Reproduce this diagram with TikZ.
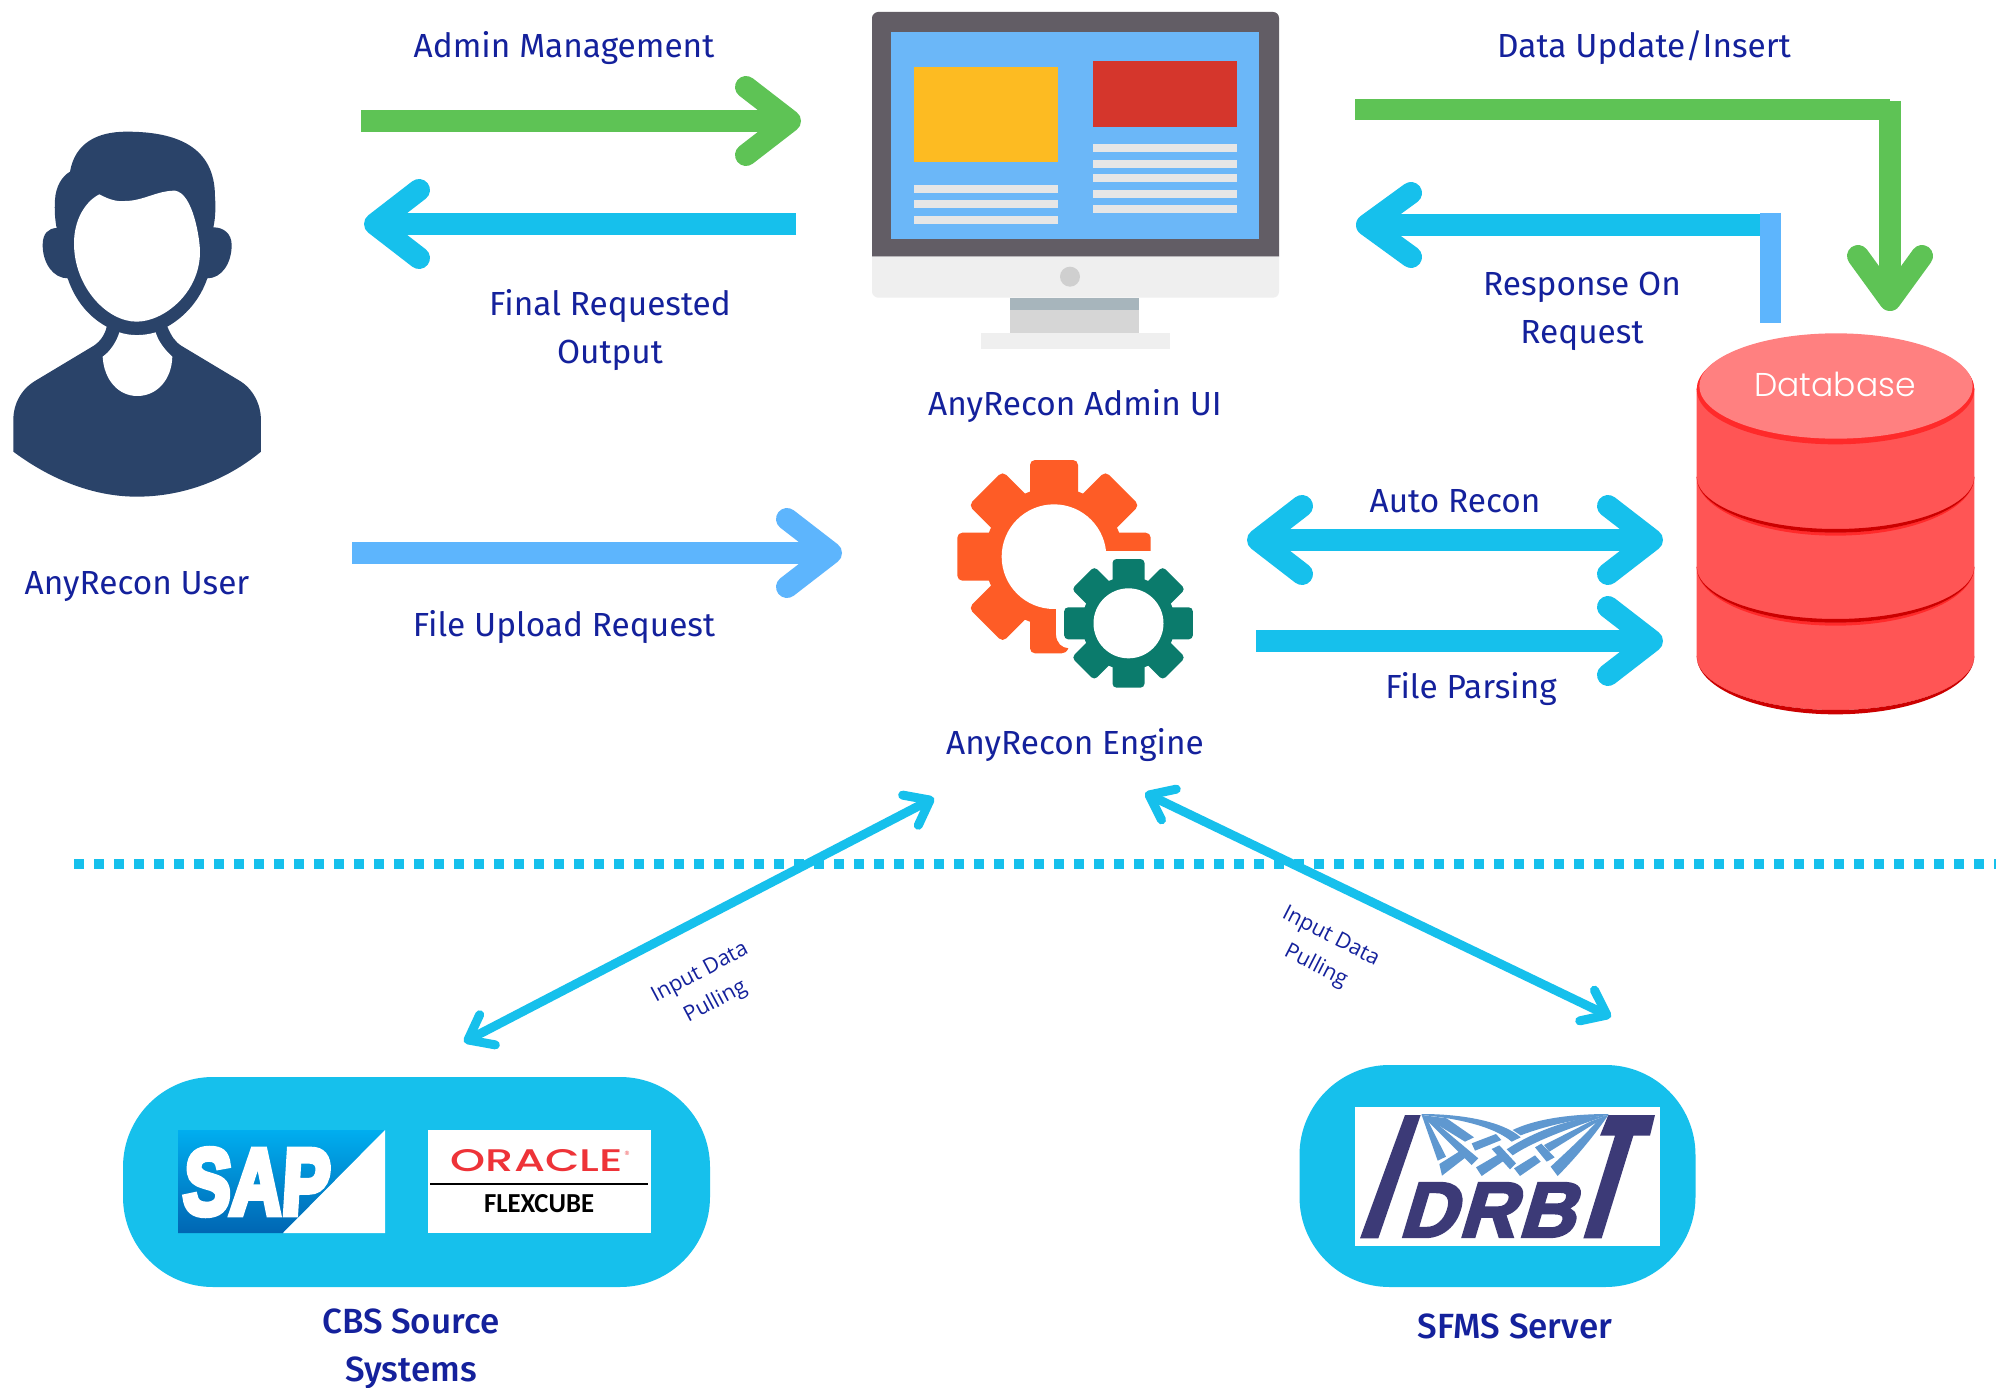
\documentclass[tikz,border=0pt]{standalone}
\usepackage{fontspec}
\usetikzlibrary{arrows.meta,calc}
\setmainfont{Fira Sans}
\newfontfamily\labelbold{Fira Sans Medium}
\newfontfamily\smallfont{Open Sans}
\newfontfamily\dbfont{Poppins Light}
\newfontfamily\oraclefont{Poppins Medium}
\newfontfamily\plainsans{Liberation Sans}
\newfontfamily\heavy{Liberation Sans}[FakeBold=7,FakeSlant=0.08]
\newfontfamily\carl{Carlito}
\newfontfamily\idrbtfont{Liberation Sans}[FakeSlant=0.3,LetterSpace=4,FakeBold=3.5]
\definecolor{cgreen}{HTML}{5EC355}
\definecolor{ccyan}{HTML}{16C0EC}
\definecolor{cblue}{HTML}{5DB5FD}
\definecolor{ctext}{HTML}{14219C}
\definecolor{cnavy}{HTML}{2A4369}
\definecolor{mdark}{HTML}{625D65}
\definecolor{mbez}{HTML}{EFEFEF}
\definecolor{mscreen}{HTML}{6BB7F8}
\definecolor{myellow}{HTML}{FDBB22}
\definecolor{mred}{HTML}{D5362C}
\definecolor{mline}{HTML}{E6E6E6}
\definecolor{mdot}{HTML}{CFCFCF}
\definecolor{mneck}{HTML}{D6D6D6}
\definecolor{mneckt}{HTML}{A7B5BC}
\definecolor{gorange}{HTML}{FE5C26}
\definecolor{gteal}{HTML}{0B7B6C}
\definecolor{dbtop}{HTML}{FF8080}
\definecolor{dbedge}{HTML}{FF2A2A}
\definecolor{dbbody}{HTML}{FF5555}
\definecolor{dbdark}{HTML}{CC0000}
\definecolor{idnavy}{HTML}{3C3A77}
\definecolor{idblue}{HTML}{5F98D0}
\definecolor{saptop}{HTML}{00AEEF}
\definecolor{sapbot}{HTML}{0066B3}
\definecolor{orared}{HTML}{EE3338}
\tikzset{
  lbl/.style={text=ctext,align=center,inner sep=0pt,font=\fontsize{33.4}{48}\selectfont},
  lblb/.style={text=ctext,align=center,inner sep=0pt,font=\labelbold\fontsize{35}{48}\selectfont},
  smalllbl/.style={text=ctext,align=center,inner sep=0pt,font=\smallfont\fontsize{21.5}{33}\selectfont},
  bigarrow/.style={line width=22pt,-{Straight Barb[length=44pt,width=68pt,round]}},
  bigarrown/.style={line width=22pt,-{Straight Barb[length=44pt,width=64pt,round]}},
  bigarrows/.style={line width=22pt,{Straight Barb[length=44pt,width=68pt,round]}-{Straight Barb[length=44pt,width=68pt,round]}},
  thinarrows/.style={line width=9pt,{Straight Barb[length=22pt,width=34pt,round]}-{Straight Barb[length=22pt,width=34pt,round]}},
  pill/.style={fill=ccyan,rounded corners=90pt,inner sep=0pt},
}
\newcommand{\dbarc}[2]{(50,#1) .. controls (50,#1+.5523*#2) and (236.5,#1+#2) .. (466.5,#1+#2) .. controls (696.5,#1+#2) and (883,#1+.5523*#2) .. (883,#1)}
\newcommand{\dbarcback}[2]{.. controls (883,#1+.5523*#2) and (696.5,#1+#2) .. (466.5,#1+#2) .. controls (236.5,#1+#2) and (50,#1+.5523*#2) .. (50,#1)}
\begin{document}
\begin{tikzpicture}[x=1pt,y=-1pt]
\useasboundingbox (0,0) rectangle (2006,1388);
\fill[white] (0,0) rectangle (2006,1388);
% user icon
\begin{scope}[shift={(0,100)},scale=0.33333]
\fill[cnavy] (210,215) .. controls (225,130) and (290,95) .. (380,95)
 .. controls (530,95) and (645,140) .. (645,290)
 .. controls (648,330) and (645,360) .. (640,382)
 .. controls (670,382) and (695,400) .. (695,435)
 .. controls (695,490) and (665,535) .. (622,535)
 .. controls (600,600) and (555,650) .. (502,680)
 .. controls (515,710) and (525,725) .. (545,738)
 -- (715,840) .. controls (760,865) and (783,915) .. (783,960)
 -- (783,1055) .. controls (680,1140) and (550,1190) .. (410,1190)
 .. controls (270,1190) and (140,1130) .. (40,1055)
 -- (40,960) .. controls (40,910) and (65,865) .. (110,840)
 -- (280,738) .. controls (300,725) and (315,705) .. (320,680)
 .. controls (265,650) and (225,600) .. (203,535)
 .. controls (160,535) and (128,490) .. (128,435)
 .. controls (128,400) and (145,385) .. (170,384)
 .. controls (165,360) and (163,330) .. (165,300)
 .. controls (167,260) and (185,230) .. (210,215) -- cycle;
\fill[white] (298,283) .. controls (330,300) and (350,305) .. (375,303)
 .. controls (430,303) and (470,272) .. (525,272)
 .. controls (580,280) and (600,420) .. (600,455)
 .. controls (600,580) and (490,665) .. (410,665)
 .. controls (320,665) and (222,560) .. (222,430)
 .. controls (222,360) and (255,305) .. (298,283) -- cycle;
\fill[white] (358,697) .. controls (390,708) and (430,708) .. (467,697)
 .. controls (475,725) and (495,750) .. (517,770)
 .. controls (515,840) and (470,888) .. (412,888)
 .. controls (355,888) and (312,840) .. (308,770)
 .. controls (330,755) and (350,725) .. (358,697) -- cycle;
\end{scope}
% monitor icon
\begin{scope}[shift={(850,0)},scale=0.33333]
\fill[mneck] (480,893) rectangle (868,998);
\fill[mneckt] (480,893) rectangle (868,931);
\fill[mbez] (392,998) rectangle (961,1046);
\fill[mdark] (66,770) -- (66,54) .. controls (66,44) and (76,36) .. (84,36) -- (1269,36) .. controls (1279,36) and (1287,44) .. (1287,54) -- (1287,770) -- cycle;
\fill[mbez] (66,770) -- (1287,770) -- (1287,875) .. controls (1287,885) and (1279,893) .. (1269,893) -- (84,893) .. controls (76,893) and (66,885) .. (66,875) -- cycle;
\fill[mscreen] (124,97) rectangle (1228,716);
\fill[myellow] (191,202) rectangle (624,486);
\fill[mred] (728,182) rectangle (1162,382);
\foreach \ya/\yb in {554/578,601/625,647/671} \fill[mline] (191,\ya) rectangle (624,\yb);
\foreach \ya/\yb in {433/457,480/504,523/547,570/594,614/638} \fill[mline] (728,\ya) rectangle (1162,\yb);
\fill[mdot] (660,830) circle[radius=30];
\end{scope}
% gears icon
\begin{scope}[shift={(930,440)},scale=0.33333]
\foreach \a in {0,45,...,315}
  \fill[gorange,rotate around={\a:(372,350)},rounded corners=5pt] (300,60) rectangle (444,260);
\fill[gorange] (372,350) circle[radius=208];
\fill[white] (372,350) circle[radius=157];
\fill[white] (378,332) rectangle (690,690);
\fill[gorange] (378,585) .. controls (380,610) and (395,623) .. (415,625) .. controls (410,635) and (405,640) .. (395,640) -- (378,640) -- cycle;
\foreach \a in {0,45,...,315}
  \fill[gteal,rotate around={\a:(595.5,550)},rounded corners=4pt] (547.5,357) rectangle (643.5,480);
\fill[gteal] (595.5,550) circle[radius=140];
\fill[white] (595.5,550) circle[radius=105];
\end{scope}
% database icon
\begin{scope}[shift={(1680,300)},scale=0.33333]
\fill[dbbody] (50,265) -- (883,265) -- (883,1068) \dbarcback{1068}{162} -- cycle;
\fill[dbdark] \dbarc{1068}{175} \dbarcback{1068}{162} -- cycle;
\foreach \s in {800,530}{
  \fill[dbedge] \dbarc{\s}{177} \dbarcback{\s}{168} -- cycle;
  \fill[dbdark] \dbarc{\s}{168} \dbarcback{\s}{157} -- cycle;
}
\fill[dbedge] (466.5,268) ellipse[x radius=416.5,y radius=165];
\fill[dbtop] (468,258) ellipse[x radius=410,y radius=158];
\end{scope}
\node[inner sep=0pt,text=white,font=\dbfont\fontsize{33}{40}\selectfont] (dbname) at (1835,384) {Database};
% pills and logos
\path (123,1077) coordinate (p1a) (710,1287) coordinate (p1b);
\fill[pill] (p1a) rectangle (p1b);
\shade[top color=saptop,bottom color=sapbot] (178,1130) -- (385,1130) -- (283,1233) -- (178,1233) -- cycle;
\fill[white] (385,1130) -- (385,1233) -- (283,1233) -- cycle;
\node[inner sep=0pt,text=white,anchor=center] (sap) at (255,1182) {\heavy\bfseries\resizebox{146pt}{65pt}{SAP}};
\fill[white] (428,1130) rectangle (651,1233);
\node[inner sep=0pt,text=orared] (oracle) at (537,1161) {\oraclefont\resizebox{172pt}{22pt}{ORACLE}};
\node[inner sep=0pt,text=orared,font=\plainsans\fontsize{6}{6}\selectfont] (orareg) at (627,1153) {®};
\draw[black,line width=1.2pt] (430,1184) -- (648,1184);
\node[inner sep=0pt,text=black] (flex) at (539,1204) {\carl\bfseries\resizebox{110pt}{18pt}{FLEXCUBE}};
\path (1299.5,1065) coordinate (p2a) (1695.5,1287) coordinate (p2b);
\fill[pill] (p2a) rectangle (p2b);
\begin{scope}[shift={(1290,1050)},scale=0.33333]
\fill[white] (195,172) rectangle (1110,587);
\fill[idnavy] (345,195) -- (392,195) -- (265,565) -- (210,565) -- cycle;
\fill[idnavy] (955,195) -- (1095,195) -- (1080,257) -- (1030,257) -- (935,565) -- (880,565) -- (975,257) -- (930,257) -- cycle;
\fill[idblue] (395,192) .. controls (520,192) and (640,215) .. (692,262) -- (665,275) .. controls (610,228) and (500,205) .. (395,195) -- cycle;
\fill[idblue] (395,195) -- (470,205) -- (552,262) -- (525,275) -- cycle;
\fill[idblue] (395,195) -- (430,212) -- (565,325) -- (545,345) -- cycle;
\fill[idblue] (395,195) -- (410,205) -- (468,320) -- (443,332) -- cycle;
\fill[idblue] (448,342) -- (510,303) -- (527,322) -- (456,377) -- cycle;
\fill[idblue] (545,280) -- (618,252) -- (634,270) -- (555,302) -- cycle;
\fill[idblue] (558,352) -- (625,313) -- (642,332) -- (575,378) -- cycle;
\fill[idblue] (605,297) -- (628,286) -- (678,340) -- (660,358) -- cycle;
\fill[idblue] (672,355) -- (735,316) -- (752,335) -- (690,378) -- cycle;
\fill[idblue] (955,192) .. controls (830,192) and (730,210) .. (668,240) -- (692,256) .. controls (770,226) and (860,208) .. (955,195) -- cycle;
\fill[idblue] (955,195) -- (880,205) .. controls (780,225) and (700,265) .. (650,298) -- (668,316) .. controls (740,268) and (860,228) .. (955,195) -- cycle;
\fill[idblue] (735,292) -- (754,281) -- (794,322) -- (770,335) -- cycle;
\fill[idblue] (955,195) -- (900,215) -- (762,285) -- (778,305) -- cycle;
\fill[idblue] (955,195) -- (930,205) .. controls (880,260) and (830,305) .. (782,350) -- (803,378) .. controls (860,320) and (910,260) .. (955,195) -- cycle;
\end{scope}
\node[inner sep=0pt,text=idnavy,font=\idrbtfont\bfseries\fontsize{78}{80}\selectfont] (drb) at (1486,1210) {DRB};
% dotted separator
\path (74,864) coordinate (dota) (1996,864) coordinate (dotb);
\draw[ccyan,line width=10pt,dash pattern=on 10pt off 10pt] (dota) -- (dotb);
% arrow ends
\path (361,121) coordinate (adminS) (801,121) coordinate (adminE)
      (796,224) coordinate (finalS) (364,224) coordinate (finalE)
      (352,553) coordinate (fileS) (842,553) coordinate (fileE)
      (1247,540) coordinate (autoA) (1663,540) coordinate (autoB)
      (1256,641) coordinate (parseS) (1663,641) coordinate (parseE)
      (1355,109.5) coordinate (dataS) (1890,109.5) coordinate (dataM)
      (1890,101) coordinate (dataV) (1890,311) coordinate (dataE)
      (1761,225) coordinate (respS) (1356,225) coordinate (respE)
      (1770.5,213) coordinate (respT) (1770.5,323) coordinate (respB)
      (464,1042) coordinate (inA) (934,798) coordinate (inB)
      (1145,793) coordinate (inC) (1611,1017) coordinate (inD);
\draw[cgreen,bigarrow] (adminS) -- (adminE);
\draw[ccyan,bigarrow] (finalS) -- (finalE);
\draw[cblue,bigarrow] (fileS) -- (fileE);
\draw[ccyan,bigarrows] (autoA) -- (autoB);
\draw[ccyan,bigarrow] (parseS) -- (parseE);
\draw[cgreen,line width=21pt] (dataS) -- (dataM);
\draw[cgreen,bigarrown] (dataV) -- (dataE);
\draw[ccyan,bigarrown] (respS) -- (respE);
\draw[cblue,line width=21pt] (respT) -- (respB);
\draw[ccyan,thinarrows] (inA) -- (inB);
\draw[ccyan,thinarrows] (inC) -- (inD);
% labels
\node[lbl] (l1) at (564,48) {Admin Management};
\node[lbl] (l2) at (1644,47.5) {Data Update/Insert};
\node[lbl] (l3) at (610,330) {Final Requested\\Output};
\node[lbl] (l4) at (1075,406) {AnyRecon Admin UI};
\node[lbl] (l5) at (1582,311) {Response On\\Request};
\node[lbl] (l6) at (137,586.5) {AnyRecon User};
\node[lbl] (l7) at (564,627) {File Upload Request};
\node[lbl] (l8) at (1075,745) {AnyRecon Engine};
\node[lbl] (l9) at (1455,501) {Auto Recon};
\node[lbl] (l10) at (1471,689) {File Parsing};
\node[lblb] (l11) at (411,1349) {CBS Source\\Systems};
\node[lblb] (l12) at (1515,1326) {SFMS Server};
\node[smalllbl,rotate=28] (l13) at (708,988) {Input Data\\Pulling};
\node[smalllbl,rotate=-27] (l14) at (1323,952) {Input Data\\Pulling};
\end{tikzpicture}
\end{document}
